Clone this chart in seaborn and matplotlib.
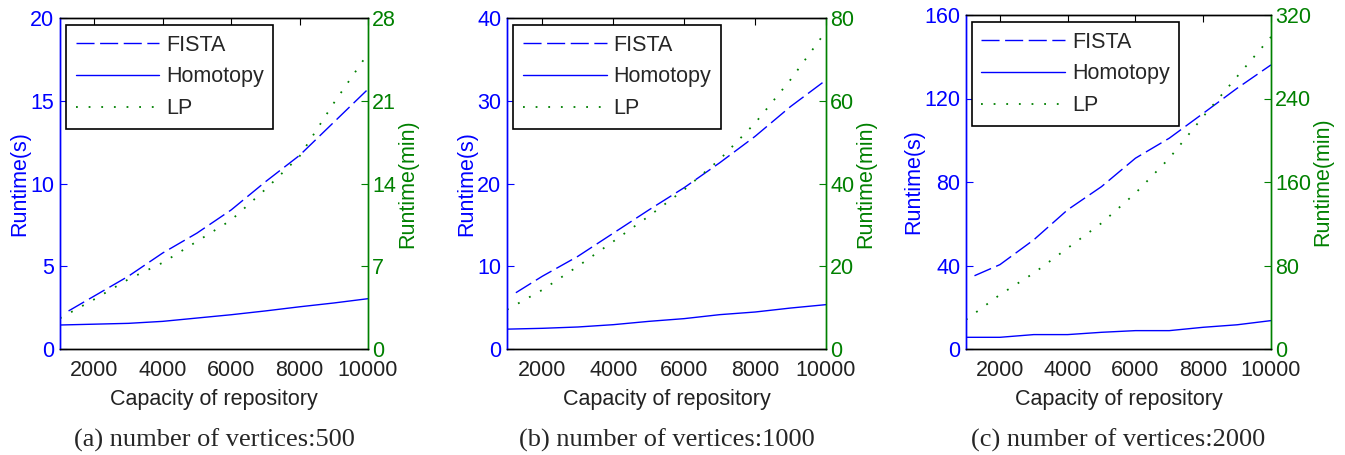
import matplotlib
matplotlib.use("Agg")
import matplotlib.pyplot as plt
import seaborn as sns
from matplotlib.lines import Line2D

# capacity of repository (x values)
CAPACITY = [1000, 2000, 3000, 4000, 5000, 6000, 7000, 8000, 9000, 10000]
FISTA_CAPACITY = [1250, 2000, 3000, 4000, 5000, 6000, 7000, 8000, 9000, 10000]

# panel (a): 500 vertices
fista_500 = [2.3, 3.2, 4.4, 5.8, 7.0, 8.4, 10.1, 11.7, 13.7, 15.7]
homotopy_500 = [1.45, 1.5, 1.55, 1.67, 1.87, 2.07, 2.3, 2.55, 2.78, 3.04]
lp_500 = [2.6, 4.2, 5.9, 7.3, 9.1, 10.9, 13.5, 16.3, 20.8, 25.0]

# panel (b): 1000 vertices
fista_1000 = [6.8, 8.8, 11.2, 14.0, 16.8, 19.5, 22.5, 25.7, 29.3, 32.5]
homotopy_1000 = [2.4, 2.5, 2.66, 2.94, 3.34, 3.67, 4.15, 4.47, 4.95, 5.36]
lp_1000 = [9.5, 14.3, 20.0, 26.0, 32.1, 38.5, 45.8, 54.6, 65.1, 76.8]

# panel (c): 2000 vertices
fista_2000 = [35.1, 40.4, 52.3, 66.7, 77.8, 91.4, 101.0, 112.9, 124.9, 136.1]
homotopy_2000 = [5.6, 5.6, 6.9, 6.9, 8.0, 8.8, 8.8, 10.4, 11.6, 13.6]
lp_2000 = [28.1, 52.0, 72.7, 96.7, 120.6, 149.3, 182.8, 222.7, 261.0, 299.0]

LEFT_TICKS = [[0, 5, 10, 15, 20], [0, 10, 20, 30, 40], [0, 40, 80, 120, 160]]
RIGHT_TICKS = [[0, 7, 14, 21, 28], [0, 20, 40, 60, 80], [0, 80, 160, 240, 320]]
CAPTIONS = ["(a) number of vertices:500", "(b) number of vertices:1000",
            "(c) number of vertices:2000"]

PANELS = [
    (fista_500, homotopy_500, lp_500),
    (fista_1000, homotopy_1000, lp_1000),
    (fista_2000, homotopy_2000, lp_2000),
]

BLUE = "#0000FF"
GREEN = "#008000"

sns.set_style("white")
plt.rcParams['font.family'] = ['Liberation Sans', 'DejaVu Sans']

fig = plt.figure(figsize=(13.45, 4.55), dpi=100)

# axes positions in pixels: left, right, top, bottom
boxes = [(60, 368, 18, 349), (507, 826, 18, 349), (966, 1271, 15, 349)]
W, H = 1345, 455
FS = 15.5

for k, (fista, homotopy, lp) in enumerate(PANELS):
    l, r, t, b = boxes[k]
    ax = fig.add_axes([l / W, 1 - b / H, (r - l) / W, (b - t) / H])
    ax2 = ax.twinx()

    sns.lineplot(x=FISTA_CAPACITY, y=fista, ax=ax, color=BLUE, linewidth=1.0,
                 dashes=False, linestyle=(0, (13, 4)))
    sns.lineplot(x=CAPACITY, y=homotopy, ax=ax, color=BLUE, linewidth=1.0)
    sns.lineplot(x=CAPACITY, y=lp, ax=ax2, color=GREEN, linewidth=1.3,
                 linestyle=(0, (1, 6)))

    ax.set_xlim(1000, 10000)
    ax.set_xticks([2000, 4000, 6000, 8000, 10000])
    ax.set_ylim(LEFT_TICKS[k][0], LEFT_TICKS[k][-1])
    ax.set_yticks(LEFT_TICKS[k])
    ax2.set_ylim(RIGHT_TICKS[k][0], RIGHT_TICKS[k][-1])
    ax2.set_yticks(RIGHT_TICKS[k])

    ax.tick_params(axis='x', direction='in', top=True, length=5, width=0.8,
                   labelsize=FS, colors='black', labelcolor='#222222', pad=8)
    ax.tick_params(axis='y', direction='in', length=5, width=0.8,
                   labelsize=FS, colors=BLUE, pad=4)
    ax2.tick_params(axis='y', direction='in', length=5, width=0.8,
                    labelsize=FS, colors=GREEN, pad=3)

    for a in (ax, ax2):
        for s in a.spines.values():
            s.set_linewidth(1.0)
            s.set_color('black')
    ax.spines['left'].set_color(BLUE)
    ax2.spines['left'].set_color(BLUE)
    ax.spines['right'].set_color(GREEN)
    ax2.spines['right'].set_color(GREEN)

    ax.set_xlabel("Capacity of repository", fontsize=FS, color='#222222', labelpad=6)
    ax.set_ylabel("Runtime(s)", fontsize=FS, color=BLUE, labelpad=0)
    ax2.set_ylabel("Runtime(min)", fontsize=FS, color=GREEN, labelpad=1)

    handles = [
        Line2D([], [], color=BLUE, linewidth=1.0, linestyle=(0, (13, 4))),
        Line2D([], [], color=BLUE, linewidth=1.0),
        Line2D([], [], color=GREEN, linewidth=1.3, linestyle=(0, (1, 6))),
    ]
    leg = ax2.legend(handles, ["FISTA", "Homotopy", "LP"], loc='upper left',
                     bbox_to_anchor=(0.019, 0.979), fontsize=FS, handlelength=3.9,
                     labelspacing=0.5, handletextpad=0.3, borderpad=0.45,
                     borderaxespad=0, fancybox=False, framealpha=1,
                     edgecolor='black')
    leg.get_frame().set_linewidth(1.2)

    fig.text((l + r) / 2 / W, 1 - 440 / H, CAPTIONS[k], ha='center', va='center',
             fontsize=19, family=['Liberation Serif', 'DejaVu Serif'])

fig.savefig("out.png", dpi=100)
